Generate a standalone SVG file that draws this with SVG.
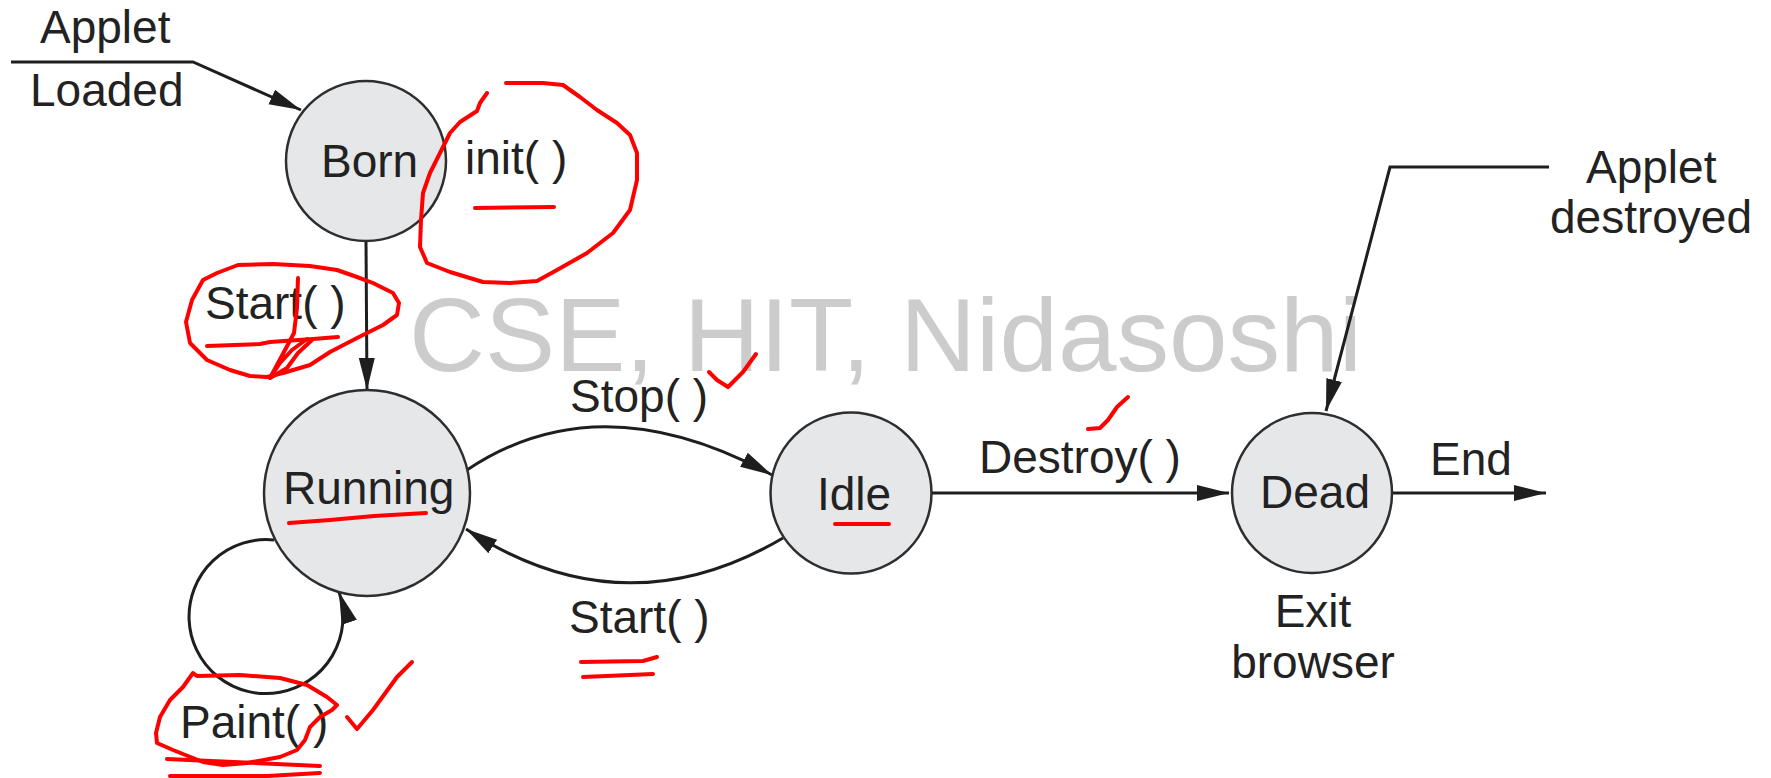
<svg xmlns="http://www.w3.org/2000/svg" width="1771" height="778" viewBox="0 0 1771 778">
  <style>
    .bg { fill: #ffffff; }
    .node { fill: #e6e7e9; stroke: #2e2e2e; stroke-width: 2.5; }
    .lbl { font-family: "Liberation Sans", Arial, sans-serif; font-size: 46px; fill: #222222; }
    .wm { font-family: "Liberation Sans", Arial, sans-serif; font-size: 104px; fill: #cccccc; }
    .edge { fill: none; stroke: #1e1e1e; stroke-width: 3; }
    .ink { fill: none; stroke: #ff0000; stroke-width: 4; stroke-linecap: round; stroke-linejoin: round; }
  </style>
  <defs>
    <marker id="arrow" markerUnits="userSpaceOnUse" markerWidth="34" markerHeight="20" refX="32" refY="10" orient="auto">
      <path d="M0,2 L32,10 L0,18 Z" fill="#1e1e1e"/>
    </marker>
  </defs>

  <rect class="bg" x="0" y="0" width="1771" height="778"/>

  <!-- watermark -->
  <text class="wm" x="409" y="371" textLength="953" lengthAdjust="spacingAndGlyphs">CSE, HIT, Nidasoshi</text>

  <!-- connectors -->
  <g id="connectors">
    <polyline class="edge" points="11,62 193,62 301,110" marker-end="url(#arrow)"/>
    <line class="edge" x1="366" y1="241" x2="367" y2="390" marker-end="url(#arrow)"/>
    <path class="edge" d="M467,470 Q600,381 772,475" marker-end="url(#arrow)"/>
    <path class="edge" d="M783,538 Q623,632 466,529" marker-end="url(#arrow)"/>
    <path class="edge" d="M274,540 A77,77 0 1 0 339,592" marker-end="url(#arrow)"/>
    <line class="edge" x1="931" y1="493" x2="1229" y2="493" marker-end="url(#arrow)"/>
    <line class="edge" x1="1392" y1="493" x2="1546" y2="493" marker-end="url(#arrow)"/>
    <polyline class="edge" points="1549,167 1390,167 1326,411" marker-end="url(#arrow)"/>
  </g>

  <!-- states -->
  <g id="born">
    <circle class="node" cx="366" cy="161" r="80"/>
    <text class="lbl" x="321" y="177">Born</text>
  </g>
  <g id="running">
    <circle class="node" cx="367" cy="493" r="103"/>
    <text class="lbl" x="283" y="504">Running</text>
  </g>
  <g id="idle">
    <circle class="node" cx="851" cy="493" r="80.5"/>
    <text class="lbl" x="817" y="510">Idle</text>
  </g>
  <g id="dead">
    <circle class="node" cx="1312" cy="493" r="80"/>
    <text class="lbl" x="1260" y="508">Dead</text>
  </g>

  <!-- transition and note labels -->
  <g id="labels">
    <text class="lbl" x="40" y="43">Applet</text>
    <text class="lbl" x="30" y="106">Loaded</text>
    <text class="lbl" x="465" y="174">init( )</text>
    <text class="lbl" x="205" y="319">Start( )</text>
    <text class="lbl" x="570" y="412">Stop( )</text>
    <text class="lbl" x="569" y="633">Start( )</text>
    <text class="lbl" x="180" y="738">Paint( )</text>
    <text class="lbl" x="979" y="473">Destroy( )</text>
    <text class="lbl" x="1430" y="475">End</text>
    <text class="lbl" x="1313" y="627" text-anchor="middle">Exit</text>
    <text class="lbl" x="1313" y="678" text-anchor="middle">browser</text>
    <text class="lbl" x="1586" y="183">Applet</text>
    <text class="lbl" x="1550" y="233">destroyed</text>
  </g>

  <!-- hand-drawn red pen marks -->
  <g id="pen-marks">
    <path class="ink" d="M487,93 L480,103 L477,111 L460,122 L450,133 L440,153 L430,173 L423,193 L421,220 L420,247 L427,263 L450,272 L483,282 L510,283 L537,281 L557,270 L587,253 L613,233 L630,210 L637,180 L637,153 L630,135 L617,123 L597,110 L580,97 L563,85 L543,83 L527,83 L506,83"/>
    <path class="ink" d="M475,208 L554,207"/>
    <path class="ink" d="M238,265 L273,264 L310,266 L337,270 L357,277 L373,283 L393,293 L399,303 L397,315 L383,325 L357,338 L330,352 L310,365 L283,373 L267,377 L250,376 L230,370 L207,360 L190,343 L186,322 L192,300 L203,280 L217,273 Z"/>
    <path class="ink" d="M207,346 L260,344 L270,342 L313,339 L338,337"/>
    <path class="ink" d="M298,278 L297,308 L294,333 L285,350 L270,378 L280,363 L292,350 L307,339"/>
    <path class="ink" d="M270,378 L287,368 L298,353 L313,339"/>
    <path class="ink" d="M289,523 L330,520 L374,516 L426,513"/>
    <path class="ink" d="M193,673 L197,676 L240,675 L280,678 L307,685 L327,697 L337,705 L332,710 L320,717 L310,727 L305,740 L297,750 L280,757 L247,763 L223,765 L203,762 L173,750 L157,743 L156,733 L160,717 L170,700 L183,687 Z"/>
    <path class="ink" d="M167,759 L320,766"/>
    <path class="ink" d="M170,776 L267,776 L320,773"/>
    <path class="ink" d="M347,717 L357,729 L373,710 L397,677 L412,662"/>
    <path class="ink" d="M581,662 L643,661 L657,657"/>
    <path class="ink" d="M583,677 L630,675 L653,674"/>
    <path class="ink" d="M709,372 L717,380 L728,387 L743,372 L756,354"/>
    <path class="ink" d="M1088,429 L1100,428 L1108,420 L1117,407 L1128,397"/>
    <path class="ink" d="M835,524 L889,524"/>
  </g>
</svg>
